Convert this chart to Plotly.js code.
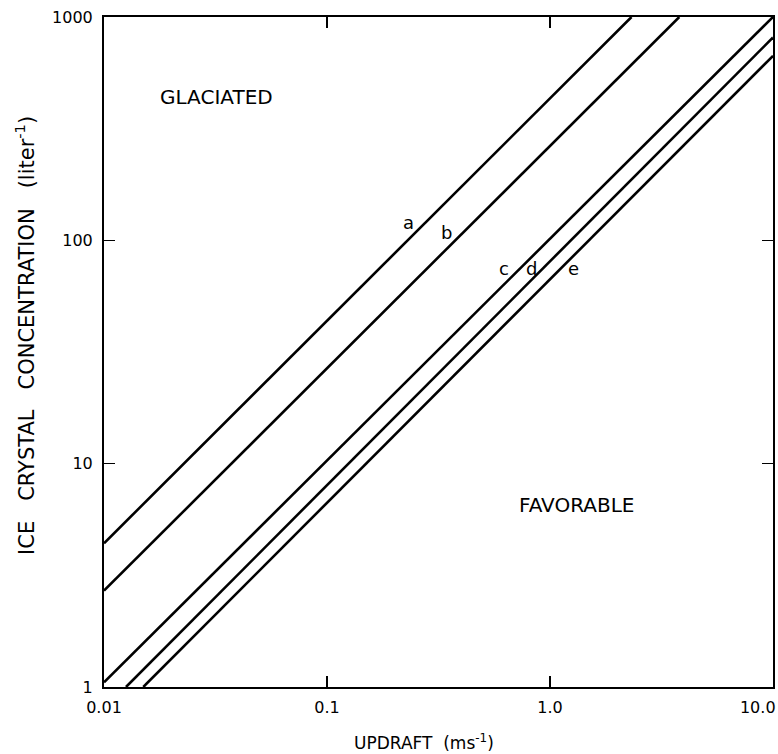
<!DOCTYPE html>
<html>
<head>
<meta charset="utf-8">
<script src="https://cdn.plot.ly/plotly-3.0.1.min.js"></script>
<style>
  html, body { margin: 0; padding: 0; background: #ffffff; }
  #chart { width: 778px; height: 754px; }
</style>
</head>
<body>
<div id="chart"></div>
<script>
// Lines (updraft m/s, ice crystal concentration per liter)
const lineA_updraft = [0.01, 2.32];
const lineA_conc    = [4.4, 1000];
const lineB_updraft = [0.01, 3.8];
const lineB_conc    = [2.7, 1000];
const lineC_updraft = [0.01, 10];
const lineC_conc    = [1.05, 1000];
const lineD_updraft = [0.01255, 10];
const lineD_conc    = [1, 810];
const lineE_updraft = [0.015, 10];
const lineE_conc    = [1, 670];

const curveNames = ['a', 'b', 'c', 'd', 'e'];
// Label anchor points (data coords)
const labelUpdraft = [0.231, 0.345, 0.622, 0.83, 1.27];
const labelConc    = [120, 108, 74.5, 75, 74.5];

const regionNames   = ['GLACIATED', 'FAVORABLE'];
const regionUpdraft = [0.0321, 1.32];
const regionConc    = [439, 6.53];

const xTickVals = [0.01, 0.1, 1, 10];
const xTickText = ['0.01', '0.1', '1.0', '10.0\u00a0\u00a0\u00a0\u00a0\u00a0\u00a0'];
const yTickVals = [1, 10, 100, 1000];
const yTickText = ['1', '10', '100', '1000'];

const xTitle = 'UPDRAFT  (ms<sup>-1</sup>)';
const yTitle = 'ICE   CRYSTAL   CONCENTRATION   (liter<sup>-1</sup>)';

const FONT = 'DejaVu Sans, Liberation Sans, Arial, sans-serif';

const xs = [lineA_updraft, lineB_updraft, lineC_updraft, lineD_updraft, lineE_updraft];
const ys = [lineA_conc, lineB_conc, lineC_conc, lineD_conc, lineE_conc];

const traces = xs.map((x, i) => ({
  x: x, y: ys[i], type: 'scatter', mode: 'lines', name: curveNames[i],
  line: { color: '#000000', width: 2.6 }, hoverinfo: 'none', cliponaxis: true
}));

const annotations = [];
curveNames.forEach((n, i) => {
  annotations.push({
    x: Math.log10(labelUpdraft[i]), y: Math.log10(labelConc[i]),
    xref: 'x', yref: 'y', text: n, showarrow: false,
    font: { family: FONT, size: 18, color: '#000' }
  });
});
regionNames.forEach((n, i) => {
  annotations.push({
    x: Math.log10(regionUpdraft[i]), y: Math.log10(regionConc[i]),
    xref: 'x', yref: 'y', text: n, showarrow: false,
    font: { family: FONT, size: 20, color: '#000' }
  });
});
// axis titles (placed as in the reference)
annotations.push({
  xref: 'paper', yref: 'paper', x: 0.478, y: -0.082, text: xTitle, showarrow: false,
  xanchor: 'center', yanchor: 'middle',
  font: { family: FONT, size: 17, color: '#000' }
});
annotations.push({
  xref: 'paper', yref: 'paper', x: -0.118, y: 0.524, text: yTitle, showarrow: false,
  textangle: -90, xanchor: 'center', yanchor: 'middle',
  font: { family: FONT, size: 21, color: '#000' }
});

const axisCommon = {
  type: 'log', showgrid: false, zeroline: false,
  showline: true, linecolor: '#000', linewidth: 2, mirror: 'ticks',
  ticks: 'inside', ticklen: 11, tickwidth: 1.5, tickcolor: '#000',
  ticklabeloverflow: 'allow',
  tickfont: { family: FONT, size: 16, color: '#000' }
};

const layout = {
  width: 778, height: 754,
  margin: { l: 104, r: 5, t: 17, b: 67 },
  paper_bgcolor: '#ffffff', plot_bgcolor: '#ffffff',
  showlegend: false,
  xaxis: Object.assign({}, axisCommon, {
    range: [-2, 1], tickvals: xTickVals, ticktext: xTickText,
    ticklabelstandoff: 5
  }),
  yaxis: Object.assign({}, axisCommon, {
    range: [0, 3], tickvals: yTickVals, ticktext: yTickText,
    ticklabelstandoff: 6
  }),
  annotations: annotations
};

Plotly.newPlot('chart', traces, layout, { staticPlot: true, displayModeBar: false });
</script>
</body>
</html>
